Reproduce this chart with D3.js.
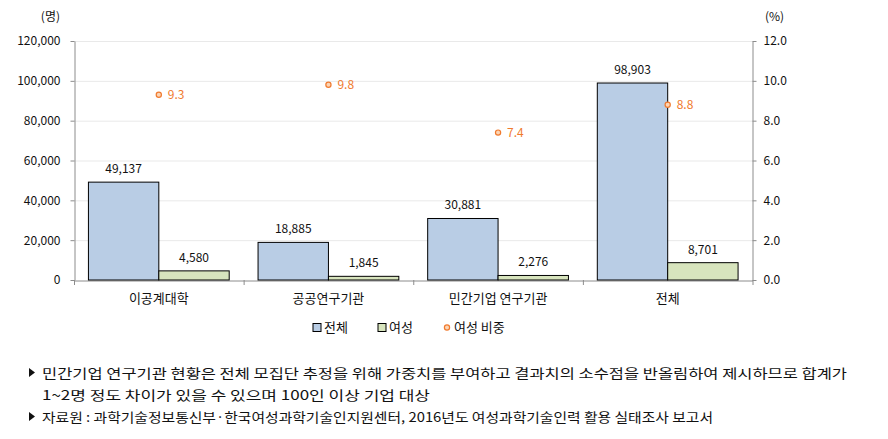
<!DOCTYPE html>
<html><head><meta charset="utf-8">
<script src="https://cdn.jsdelivr.net/npm/d3@7"></script>
<style>
body{margin:0;background:#fff;}
text{font-family:"Noto Sans CJK KR","Noto Sans",sans-serif;}
</style></head>
<body><svg id="c" width="888" height="439"></svg>
<script>
const categories = ["이공계대학","공공연구기관","민간기업 연구기관","전체"];
const totalValues = [49137, 18885, 30881, 98903];
const femaleValues = [4580, 1845, 2276, 8701];
const femaleRatio = [9.3, 9.8, 7.4, 8.8];
const leftTicks = [0,20000,40000,60000,80000,100000,120000];
const rightTicks = [0,2,4,6,8,10,12];
const seriesNames = ["전체","여성","여성 비중"];
const notes = [
  [true,"민간기업 연구기관 현황은 전체 모집단 추정을 위해 가중치를 부여하고 결과치의 소수점을 반올림하여 제시하므로 합계가"],
  [false,"1~2명 정도 차이가 있을 수 있으며 100인 이상 기업 대상"],
  [true,"자료원 : 과학기술정보통신부·한국여성과학기술인지원센터, 2016년도 여성과학기술인력 활용 실태조사 보고서"]
];

const svg = d3.select("#c");
const L = 74, R = 752.5, T = 41, B = 280;
const fmt = d3.format(",");
const y = d3.scaleLinear().domain([0,120000]).range([B,T]);
const y2 = d3.scaleLinear().domain([0,12]).range([B,T]);
const x0 = d3.scaleBand().domain(categories).range([L,R]).padding(0);
const x1 = d3.scaleBand().domain(["total","female"]).range([0,x0.bandwidth()]).paddingInner(0).paddingOuter(0.205);

// grid
svg.append("g").selectAll("line").data(leftTicks.slice(1)).join("line")
  .attr("x1",L).attr("x2",R).attr("y1",d=>y(d)+0.5).attr("y2",d=>y(d)+0.5)
  .attr("stroke","#e9e9e9").attr("stroke-width",1);

// left axis
const gl = svg.append("g").attr("transform",`translate(${L+0.5},0)`)
  .call(d3.axisLeft(y).tickValues(leftTicks).tickFormat(fmt).tickSize(4).tickSizeOuter(0));
gl.select(".domain").attr("stroke","#8c8c8c");
gl.selectAll(".tick line").attr("stroke","#8c8c8c");
gl.selectAll(".tick text").attr("font-size",12).attr("fill","#111").attr("x",-14);

// right axis
const gr = svg.append("g").attr("transform",`translate(${R},0)`)
  .call(d3.axisRight(y2).tickValues(rightTicks).tickFormat(d3.format(".1f")).tickSize(4).tickSizeOuter(0));
gr.select(".domain").attr("stroke","#8c8c8c");
gr.selectAll(".tick line").attr("stroke","#8c8c8c");
gr.selectAll(".tick text").attr("font-size",12).attr("fill","#111").attr("x",11);

// bottom axis
const gb = svg.append("g").attr("transform",`translate(0,${B+0.5})`)
  .call(d3.axisBottom(x0).tickSize(0).tickSizeOuter(0));
gb.select(".domain").attr("stroke","#8c8c8c");
gb.selectAll(".tick text").attr("font-size",13).attr("fill","#111").attr("dy","0.71em").attr("y",13);
svg.append("g").selectAll("line").data(categories.concat(["end"])).join("line")
  .attr("x1",(d,i)=> i<categories.length ? x0(d)+0.5 : R+0.5)
  .attr("x2",(d,i)=> i<categories.length ? x0(d)+0.5 : R+0.5)
  .attr("y1",B).attr("y2",B+5).attr("stroke","#8c8c8c");

// bars
const groups = svg.append("g").selectAll("g").data(categories).join("g")
  .attr("transform",d=>`translate(${x0(d)},0)`);
groups.append("rect")
  .attr("x",x1("total")).attr("width",x1.bandwidth())
  .attr("y",(d,i)=>y(totalValues[i])).attr("height",(d,i)=>B-y(totalValues[i]))
  .attr("fill","#b9cde5").attr("stroke","#000").attr("stroke-width",1);
groups.append("rect")
  .attr("x",x1("female")).attr("width",x1.bandwidth())
  .attr("y",(d,i)=>y(femaleValues[i])).attr("height",(d,i)=>B-y(femaleValues[i]))
  .attr("fill","#d7e4bd").attr("stroke","#000").attr("stroke-width",1);
groups.append("text")
  .attr("x",x1("total")+x1.bandwidth()/2).attr("y",(d,i)=>y(totalValues[i])-9)
  .attr("text-anchor","middle").attr("font-size",12).attr("fill","#111")
  .text((d,i)=>fmt(totalValues[i]));
groups.append("text")
  .attr("x",x1("female")+x1.bandwidth()/2).attr("y",(d,i)=>y(femaleValues[i])-9)
  .attr("text-anchor","middle").attr("font-size",12).attr("fill","#111")
  .text((d,i)=>fmt(femaleValues[i]));

// ratio points
groups.append("circle")
  .attr("cx",x1("female")).attr("cy",(d,i)=>y2(femaleRatio[i]))
  .attr("r",2.6).attr("fill","#fcd5b5").attr("stroke","#f07a2e").attr("stroke-width",1.2);
groups.append("text")
  .attr("x",x1("female")+9).attr("y",(d,i)=>y2(femaleRatio[i])+4)
  .attr("font-size",12).attr("fill","#f07a2e")
  .text((d,i)=>femaleRatio[i].toFixed(1));

// unit labels
svg.append("text").attr("x",60).attr("y",21).attr("text-anchor","end").attr("font-size",12).attr("fill","#111").text("(명)");
svg.append("text").attr("x",765).attr("y",21).attr("font-size",12).attr("fill","#111").text("(%)");

// legend
const lg = svg.append("g");
const legX = [313, 378, 445];
lg.append("rect").attr("x",legX[0]).attr("y",323.5).attr("width",8).attr("height",8).attr("fill","#b9cde5").attr("stroke","#000");
lg.append("rect").attr("x",legX[1]).attr("y",323.5).attr("width",8).attr("height",8).attr("fill","#d7e4bd").attr("stroke","#000");
lg.append("circle").attr("cx",legX[2]+2).attr("cy",327.5).attr("r",2.6).attr("fill","#fcd5b5").attr("stroke","#f07a2e").attr("stroke-width",1.2);
lg.selectAll("text").data(seriesNames).join("text")
  .attr("x",(d,i)=>legX[i]+(i<2?11:9)).attr("y",332).attr("font-size",13).attr("fill","#111").text(d=>d);

// notes
const ng = svg.append("g");
const noteY = [378, 400, 422];
const noteLen = [805, 388, 671];
notes.forEach((n,i)=>{
  if(n[0]) ng.append("path").attr("d",`M29,${noteY[i]-10}L35,${noteY[i]-5.5}L29,${noteY[i]-1}Z`).attr("fill","#111");
  ng.append("text").attr("x",42).attr("y",noteY[i]).attr("font-size",13).attr("fill","#111")
    .attr("textLength",noteLen[i]).attr("lengthAdjust","spacingAndGlyphs").text(n[1]);
});
</script></body></html>
